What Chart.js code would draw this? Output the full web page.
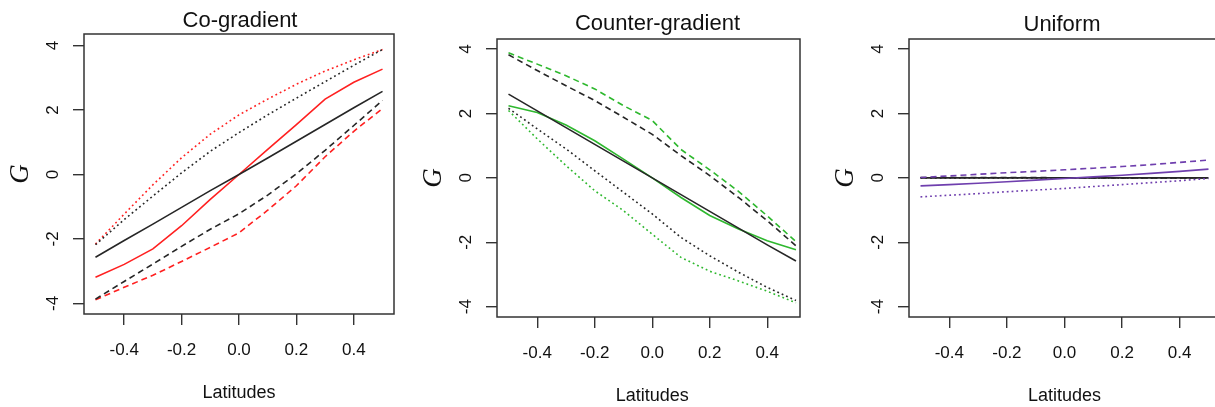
<!DOCTYPE html>
<html>
<head>
<meta charset="utf-8">
<script src="https://cdn.jsdelivr.net/npm/chart.js@4.4.0/dist/chart.umd.min.js"></script>
<style>
  html, body { margin: 0; padding: 0; background: #fff; overflow: hidden; }
  #wrap { position: relative; width: 1215px; height: 407px; overflow: hidden; }
  canvas { position: absolute; top: 0; }
</style>
</head>
<body>
<div id="wrap">
  <canvas id="coChart" width="405" height="407" style="left:0px"></canvas>
  <canvas id="counterChart" width="405" height="407" style="left:405px"></canvas>
  <canvas id="uniformChart" width="420" height="407" style="left:810px"></canvas>
</div>
<script>
const latitudes = [-0.5, -0.4, -0.3, -0.2, -0.1, 0, 0.1, 0.2, 0.3, 0.4, 0.5];
const xTicks = [-0.4, -0.2, 0, 0.2, 0.4];
const yTicks = [-4, -2, 0, 2, 4];

// Co-gradient
const coBlackSolid  = [-2.57, -2.05, -1.54, -1.02, -0.50, 0.00, 0.51, 1.03, 1.55, 2.07, 2.58];
const coBlackDotted = [-2.18, -1.40, -0.67, 0.05, 0.72, 1.30, 1.85, 2.37, 2.88, 3.39, 3.88];
const coBlackDashed = [-3.87, -3.32, -2.78, -2.23, -1.70, -1.22, -0.64, 0.02, 0.75, 1.52, 2.30];
const coRedSolid    = [-3.19, -2.79, -2.31, -1.59, -0.77, 0.00, 0.78, 1.55, 2.34, 2.86, 3.27];
const coRedDotted   = [-2.16, -1.23, -0.32, 0.52, 1.25, 1.85, 2.34, 2.80, 3.21, 3.56, 3.88];
const coRedDashed   = [-3.89, -3.50, -3.13, -2.70, -2.26, -1.81, -1.11, -0.35, 0.55, 1.34, 2.05];

// Counter-gradient
const cgBlackSolid   = [2.60, 2.08, 1.56, 1.04, 0.52, 0.00, -0.52, -1.04, -1.56, -2.08, -2.58];
const cgBlackDashed  = [3.82, 3.33, 2.86, 2.40, 1.88, 1.35, 0.69, 0.07, -0.61, -1.33, -2.11];
const cgBlackDotted  = [2.16, 1.52, 0.90, 0.22, -0.45, -1.12, -1.85, -2.42, -2.93, -3.40, -3.81];
const cgGreenSolid   = [2.24, 2.03, 1.64, 1.15, 0.58, 0.00, -0.61, -1.17, -1.59, -1.95, -2.23];
const cgGreenDashed  = [3.88, 3.53, 3.17, 2.76, 2.24, 1.78, 0.88, 0.25, -0.42, -1.18, -1.98];
const cgGreenDotted  = [2.09, 1.21, 0.38, -0.40, -1.02, -1.75, -2.47, -2.90, -3.20, -3.52, -3.88];

// Uniform
const unBlackSolid    = [0, 0, 0, 0, 0, 0, 0, 0, 0, 0, 0];
const unBlackDashed   = [0.01, 0.01, 0.01, 0.01, 0.01, 0, 0, 0, 0, 0, 0];
const unBlackDotted   = [0, 0, 0, 0, 0, 0, 0, 0, 0, 0, 0];
const unPurpleSolid   = [-0.25, -0.21, -0.17, -0.12, -0.07, -0.02, 0.03, 0.08, 0.14, 0.20, 0.27];
const unPurpleDashed  = [0.01, 0.06, 0.11, 0.16, 0.20, 0.25, 0.30, 0.35, 0.41, 0.48, 0.55];
const unPurpleDotted  = [-0.59, -0.54, -0.49, -0.43, -0.38, -0.33, -0.27, -0.21, -0.15, -0.09, -0.02];

const FONT = '"Liberation Sans", Arial, Helvetica, sans-serif';
const TEXT_COLOR = "#111";
const AXIS_COLOR = "#333";
const BLACK = "#262626";
const RED = "#ff2020";
const GREEN = "#2eb82e";
const PURPLE = "#6f3fae";
const SOLID = [];
const DASHED = [6, 4];
const DOTTED = [1.8, 3];

Chart.defaults.font.family = FONT;

function line(values, color, dash) {
  return {
    data: latitudes.map((x, i) => ({ x: x, y: values[i] })),
    borderColor: color,
    borderDash: dash,
    borderWidth: 1.6,
    pointRadius: 0,
    tension: 0,
    fill: false
  };
}

// box, titles, rotated y labels and the G axis label
const panelText = {
  id: "panelText",
  afterDatasetsDraw(chart, args, opts) {
    const { ctx, chartArea: a, scales } = chart;
    const x = scales.x, y = scales.y;
    ctx.save();
    ctx.strokeStyle = AXIS_COLOR;
    ctx.lineWidth = 1.5;
    ctx.strokeRect(a.left, a.top, a.right - a.left, a.bottom - a.top);

    ctx.fillStyle = TEXT_COLOR;
    ctx.textAlign = "center";
    ctx.textBaseline = "alphabetic";
    ctx.font = "22px " + FONT;
    ctx.fillText(opts.title, opts.titleX, opts.titleY);

    ctx.font = "18px " + FONT;
    ctx.fillText("Latitudes", x.getPixelForValue(0), a.bottom + 84);

    ctx.textBaseline = "middle";
    ctx.font = "17px " + FONT;
    y.ticks.forEach(t => {
      ctx.save();
      ctx.translate(a.left - 31, y.getPixelForValue(t.value));
      ctx.rotate(-Math.PI / 2);
      ctx.fillText(String(t.value), 0, 0);
      ctx.restore();
    });

    ctx.translate(a.left - 63, (a.top + a.bottom) / 2);
    ctx.rotate(-Math.PI / 2);
    ctx.font = 'italic 27px "Liberation Serif", "Times New Roman", serif';
    ctx.fillText("G", 0, 0);
    ctx.restore();
  }
};

function makePanel(id, p) {
  const canvas = document.getElementById(id);
  return new Chart(canvas, {
    type: "line",
    data: { datasets: p.datasets },
    options: {
      responsive: false,
      animation: false,
      events: [],
      layout: {
        padding: { top: p.box.top, right: canvas.width - p.box.right, bottom: 0, left: 0 }
      },
      plugins: {
        legend: { display: false },
        tooltip: { enabled: false },
        panelText: { title: p.title, titleX: p.titleX, titleY: p.titleY }
      },
      scales: {
        x: {
          type: "linear",
          min: -0.54,
          max: p.xMax,
          afterBuildTicks: s => { s.ticks = xTicks.map(v => ({ value: v })); },
          afterFit: s => { s.height = canvas.height - p.box.bottom; },
          border: { display: false },
          grid: { drawOnChartArea: false, drawTicks: true, tickLength: 11, color: AXIS_COLOR, lineWidth: 1.4 },
          ticks: {
            autoSkip: false,
            maxRotation: 0,
            padding: 15,
            color: TEXT_COLOR,
            font: { size: 17 },
            callback: v => v.toFixed(1)
          }
        },
        y: {
          type: "linear",
          min: p.yMin,
          max: p.yMax,
          afterBuildTicks: s => { s.ticks = yTicks.map(v => ({ value: v })); },
          afterFit: s => { s.width = p.box.left; },
          border: { display: false },
          grid: { drawOnChartArea: false, drawTicks: true, tickLength: 11, color: AXIS_COLOR, lineWidth: 1.4 },
          ticks: { display: false }
        }
      }
    },
    plugins: [panelText]
  });
}

makePanel("coChart", {
  title: "Co-gradient", titleX: 240, titleY: 27,
  box: { left: 84, right: 394, top: 34, bottom: 314 },
  xMax: 0.54, yMin: -4.33, yMax: 4.36,
  datasets: [
    line(coBlackSolid, BLACK, SOLID),
    line(coBlackDotted, BLACK, DOTTED),
    line(coBlackDashed, BLACK, DASHED),
    line(coRedSolid, RED, SOLID),
    line(coRedDotted, RED, DOTTED),
    line(coRedDashed, RED, DASHED)
  ]
});

makePanel("counterChart", {
  title: "Counter-gradient", titleX: 252.5, titleY: 29.5,
  box: { left: 92, right: 395, top: 39, bottom: 317 },
  xMax: 0.514, yMin: -4.32, yMax: 4.31,
  datasets: [
    line(cgBlackSolid, BLACK, SOLID),
    line(cgBlackDashed, BLACK, DASHED),
    line(cgBlackDotted, BLACK, DOTTED),
    line(cgGreenSolid, GREEN, SOLID),
    line(cgGreenDashed, GREEN, DASHED),
    line(cgGreenDotted, GREEN, DOTTED)
  ]
});

makePanel("uniformChart", {
  title: "Uniform", titleX: 252, titleY: 31,
  box: { left: 99, right: 410, top: 39, bottom: 317 },
  xMax: 0.54, yMin: -4.32, yMax: 4.31,
  datasets: [
    line(unPurpleSolid, PURPLE, SOLID),
    line(unPurpleDashed, PURPLE, DASHED),
    line(unPurpleDotted, PURPLE, DOTTED),
    line(unBlackSolid, BLACK, SOLID),
    line(unBlackDashed, BLACK, DASHED),
    line(unBlackDotted, BLACK, DOTTED)
  ]
});
</script>
</body>
</html>
